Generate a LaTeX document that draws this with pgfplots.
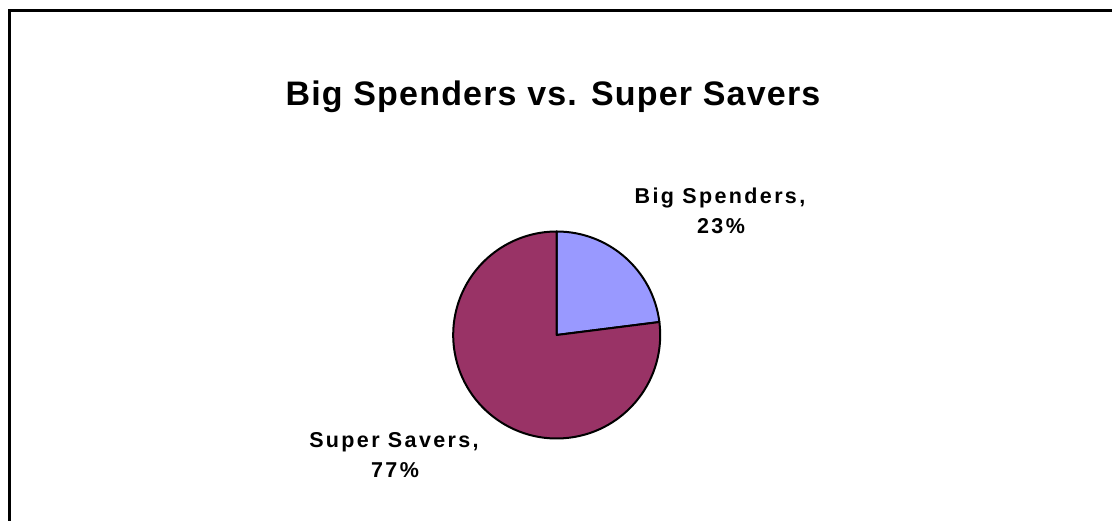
\documentclass[border=0pt]{standalone}
\usepackage{pgfplots}
\pgfplotsset{compat=1.18}
\usepackage{pgfplotstable}
\usepackage{fontspec}
\setmainfont{Liberation Sans}
\newfontfamily\titlefont[LetterSpace=3.5]{Liberation Sans}
\newfontfamily\labelfont[LetterSpace=11]{Liberation Sans}
\definecolor{spend}{HTML}{9999FF}
\definecolor{save}{HTML}{993366}
\pgfplotstableread{
name value
BigSpenders 23
SuperSavers 77
}\piedata
\pgfplotstablegetelem{0}{value}\of\piedata
\let\vA\pgfplotsretval
\pgfplotstablegetelem{1}{value}\of\piedata
\let\vB\pgfplotsretval
\pgfmathsetmacro{\aMid}{90-3.6*\vA}
\pgfmathsetmacro{\aEnd}{\aMid-3.6*\vB}
\begin{document}
\begin{tikzpicture}[x=1pt,y=1pt]
\path[use as bounding box] (0,0) rectangle (1112,521);
\begin{axis}[at={(0,0)},anchor=south west,scale only axis,
  width=1112pt,height=521pt,xmin=0,xmax=1112,ymin=0,ymax=521,
  hide axis,clip=false]
% frame (left and top edges visible)
\draw[line width=3pt,line cap=rect] (axis cs:9,-5) -- (axis cs:9,510) -- (axis cs:1120,510);
% pie
\filldraw[fill=spend,draw=black,line width=2pt,line join=round]
  (axis cs:556.7,186) -- ++(90:103.5pt) arc[start angle=90,end angle=\aMid,radius=103.5pt] -- cycle;
\filldraw[fill=save,draw=black,line width=2pt,line join=round]
  (axis cs:556.7,186) -- ++(\aMid:103.5pt) arc[start angle=\aMid,end angle=\aEnd,radius=103.5pt] -- cycle;
% title
\node[anchor=base,inner sep=0pt,font=\titlefont\bfseries\fontsize{34}{40}\selectfont] at (axis cs:553,415) {Big Spenders vs. Super Savers};
% data labels
\node[anchor=base,inner sep=0pt,font=\labelfont\bfseries\fontsize{21.5}{24}\selectfont] at (axis cs:720,317) {Big Spenders,};
\node[anchor=base,inner sep=0pt,font=\labelfont\bfseries\fontsize{21.5}{24}\selectfont] at (axis cs:721,287) {\vA\%};
\node[anchor=base,inner sep=0pt,font=\labelfont\bfseries\fontsize{21.5}{24}\selectfont] at (axis cs:394,73) {Super Savers,};
\node[anchor=base,inner sep=0pt,font=\labelfont\bfseries\fontsize{21.5}{24}\selectfont] at (axis cs:395,43) {\vB\%};
\end{axis}
\end{tikzpicture}
\end{document}
